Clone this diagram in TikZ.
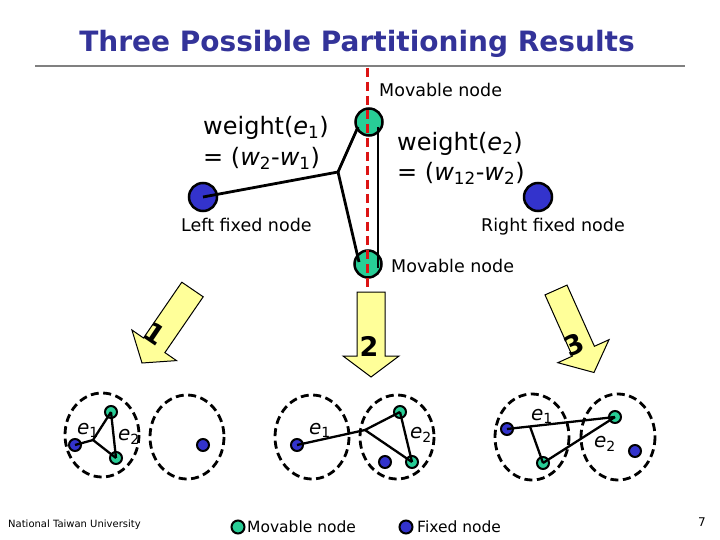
\documentclass[tikz,border=0pt]{standalone}
\usepackage{fontspec}
\setmainfont{DejaVu Sans}
\usetikzlibrary{calc}
\definecolor{mvgreen}{RGB}{40,205,150}
\definecolor{fxblue}{RGB}{51,51,204}
\definecolor{arrowyellow}{RGB}{255,255,153}
\definecolor{cutred}{RGB}{220,20,20}
\definecolor{titleblue}{RGB}{51,51,153}
\newcommand{\fsz}[1]{\fontsize{#1}{#1}\selectfont}
\tikzset{
  movbig/.style={circle,draw=black,line width=2.5pt,fill=mvgreen,minimum size=27pt,inner sep=0pt},
  fixbig/.style={circle,draw=black,line width=2.5pt,fill=fxblue,minimum size=28pt,inner sep=0pt},
  movsmall/.style={circle,draw=black,line width=2pt,fill=mvgreen,minimum size=12pt,inner sep=0pt},
  fixsmall/.style={circle,draw=black,line width=2pt,fill=fxblue,minimum size=12pt,inner sep=0pt},
  edge/.style={draw=black,line width=2.8pt},
  sedge/.style={draw=black,line width=2.3pt},
  part/.style={draw=black,line width=2.8pt,dash pattern=on 8pt off 4.5pt},
  blockarrow/.style={draw=black,line width=1pt,fill=arrowyellow,line join=miter},
  lbl/.style={anchor=base west,inner sep=0pt,font=\fsz{17.5}},
  wlbl/.style={anchor=base west,inner sep=0pt,font=\fsz{24}},
  elbl/.style={inner sep=0pt,font=\fsz{20}},
  digit/.style={inner sep=0pt,font=\fsz{27}\bfseries},
}
\begin{document}
\begin{tikzpicture}[x=1pt,y=-1pt]
\useasboundingbox (0,0) rectangle (720,540);
% title
\node[inner sep=0pt,text=titleblue,font=\fsz{28}\bfseries] (title) at (357,44) {Three Possible Partitioning Results};
\draw[draw=gray,line width=2pt] (35,66) coordinate (rl) -- (685,66) coordinate (rr);

% top diagram
\node[fixbig] (L) at (203,197) {};
\node[fixbig] (R) at (538,197) {};
\node[movbig] (T) at (369,122) {};
\node[movbig] (B) at (368,264) {};
\coordinate (J) at (338,172);
\draw[edge] (L.center) -- (J);
\draw[edge] (J) -- ($(T.center)+(-11,5)$);
\draw[edge] (J) -- ($(B.center)+(-9,-2)$);
\draw[edge] ($(T.center)+(9,5)$) -- ($(B.center)+(10,4)$);
\draw[cutred,line width=3pt,dash pattern=on 9pt off 5pt] (367,68) coordinate (c1) -- (367,293) coordinate (c2);

\node[wlbl] (w1a) at (203,135) {weight(\textit{e}\textsubscript{1})};
\node[wlbl] (w1b) at (203,166) {= (\textit{w}\textsubscript{2}-\textit{w}\textsubscript{1})};
\node[wlbl] (w2a) at (397,151) {weight(\textit{e}\textsubscript{2})};
\node[wlbl] (w2b) at (397,181) {= (\textit{w}\textsubscript{12}-\textit{w}\textsubscript{2})};
\node[lbl] (mt) at (379,97) {Movable node};
\node[lbl] (lf) at (181,231) {Left fixed node};
\node[lbl] (rf) at (481,231) {Right fixed node};
\node[lbl] (mb) at (391,272) {Movable node};

% arrows
\filldraw[blockarrow] (181.8,282.2) -- (203.2,296.8) -- (164.9,352.6) -- (176.5,360.6) -- (142,363) -- (131.9,330) -- (143.5,338) -- cycle;
\node[digit,rotate=-34] (d1) at (155,334) {1};
\filldraw[blockarrow] (357,292) -- (385,292) -- (385,356) -- (399,356) -- (371,377) -- (343,356) -- (357,356) -- cycle;
\node[digit] (d2) at (369,346) {2};
\filldraw[blockarrow] (545,294.9) -- (567,285.1) -- (594.4,346.3) -- (609,339.7) -- (594,372.5) -- (557.8,362.7) -- (572.4,356.1) -- cycle;
\node[digit,rotate=24] (d3) at (574,345) {3};

% group 1
\draw[part] (102,435) ellipse [x radius=37,y radius=42];
\draw[part] (187,437) ellipse [x radius=37,y radius=42];
\node[fixsmall] (a1) at (75,445) {};
\node[movsmall] (a2) at (111,412) {};
\node[movsmall] (a3) at (116,458) {};
\node[fixsmall] (a4) at (203,445) {};
\coordinate (aj) at (93,440);
\draw[sedge] (a1.center) -- (aj) -- (a2.center);
\draw[sedge] (aj) -- (a3.center);
\draw[sedge] (a2.center) -- (a3.center);
\node[elbl] (ae1) at (88,430) {\textit{e}\textsubscript{1}};
\node[elbl] (ae2) at (129,437) {\textit{e}\textsubscript{2}};

% group 2
\draw[part] (312,437) ellipse [x radius=37,y radius=42];
\draw[part] (397,437) ellipse [x radius=37,y radius=42];
\node[fixsmall] (b1) at (297,445) {};
\node[movsmall] (b2) at (400,412) {};
\node[movsmall] (b3) at (412,462) {};
\node[fixsmall] (b4) at (385,462) {};
\coordinate (bj) at (365,430);
\draw[sedge] (b1.center) -- (bj) -- (b2.center);
\draw[sedge] (bj) -- (b3.center);
\draw[sedge] (b2.center) -- (b3.center);
\node[elbl] (be1) at (320,430) {\textit{e}\textsubscript{1}};
\node[elbl] (be2) at (421,435) {\textit{e}\textsubscript{2}};

% group 3
\draw[part] (532,437) ellipse [x radius=37,y radius=43];
\draw[part] (618,437) ellipse [x radius=37,y radius=43];
\node[fixsmall] (c1n) at (507,429) {};
\node[movsmall] (c2n) at (615,417) {};
\node[movsmall] (c3n) at (543,463) {};
\node[fixsmall] (c4n) at (635,451) {};
\coordinate (cj) at (530,426.5);
\draw[sedge] (c1n.center) -- (c2n.center);
\draw[sedge] (cj) -- (c3n.center);
\draw[sedge] (c3n.center) -- (c2n.center);
\node[elbl] (ce1) at (542,416) {\textit{e}\textsubscript{1}};
\node[elbl] (ce2) at (605,444) {\textit{e}\textsubscript{2}};

% footer
\node[anchor=west,inner sep=0pt,font=\fsz{10}] (ntu) at (8,525) {National Taiwan University};
\node[movsmall,minimum size=13pt] (lg1) at (238,527) {};
\node[anchor=west,inner sep=0pt,font=\fsz{15.5}] (lt1) at (247,527) {Movable node};
\node[fixsmall,minimum size=13pt] (lg2) at (406,527) {};
\node[anchor=west,inner sep=0pt,font=\fsz{15.5}] (lt2) at (417,527) {Fixed node};
\node[inner sep=0pt,font=\fsz{12}] (pg) at (702,522) {7};
\end{tikzpicture}
\end{document}
